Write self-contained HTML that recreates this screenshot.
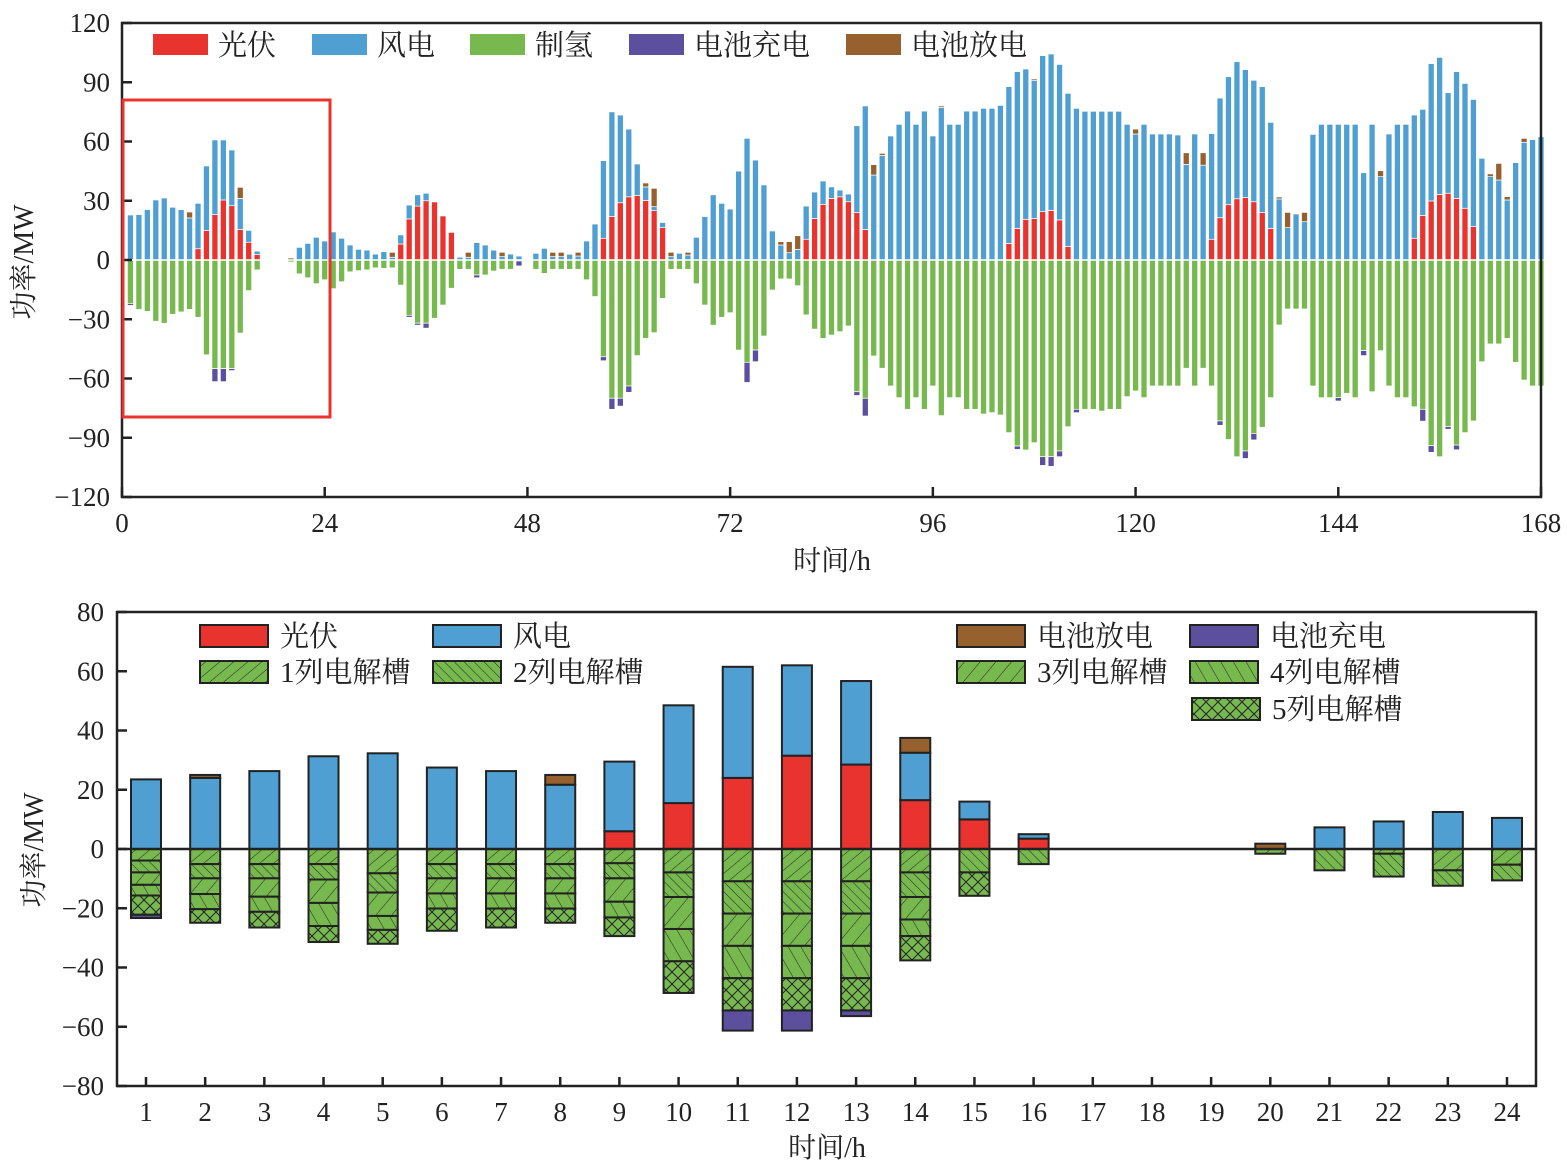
<!DOCTYPE html>
<html><head><meta charset="utf-8">
<style>
html,body{margin:0;padding:0;background:#fff;}
svg text{font-family:"Liberation Serif","Noto Serif CJK SC","Noto Sans CJK SC",serif;fill:#222;}
</style></head>
<body>
<svg id="svg" width="1567" height="1167" xmlns="http://www.w3.org/2000/svg">
<defs>
<pattern id="p1" patternUnits="userSpaceOnUse" width="9" height="9" patternTransform="rotate(50)"><rect width="9" height="9" fill="#77b94e"/><line x1="0" y1="0" x2="0" y2="9" stroke="#222" stroke-width="1"/></pattern>
<pattern id="p2" patternUnits="userSpaceOnUse" width="7" height="7" patternTransform="rotate(-45)"><rect width="7" height="7" fill="#77b94e"/><line x1="0" y1="0" x2="0" y2="7" stroke="#222" stroke-width="1"/></pattern>
<pattern id="p3" patternUnits="userSpaceOnUse" width="12" height="12" patternTransform="rotate(40)"><rect width="12" height="12" fill="#77b94e"/><line x1="0" y1="0" x2="0" y2="12" stroke="#222" stroke-width="1"/></pattern>
<pattern id="p4" patternUnits="userSpaceOnUse" width="11" height="11" patternTransform="rotate(-30)"><rect width="11" height="11" fill="#77b94e"/><line x1="0" y1="0" x2="0" y2="11" stroke="#222" stroke-width="1"/></pattern>
<pattern id="p5" patternUnits="userSpaceOnUse" width="12" height="12"><rect width="12" height="12" fill="#77b94e"/><path d="M0,0L12,12M12,0L0,12" stroke="#222" stroke-width="1"/></pattern>
</defs>
<g id="top"></g>
<g id="bot"></g>
</svg>
<script>
// ---------- TOP CHART DATA (168 h) ----------
const topPV = [0,0,0,0,0,0,0,0,5.7,15,23,30.4,27.5,15.5,9,2.7,0,0,0,0,0,0,0,0,0,0,0,0,0,0,0,0,8.1,20.8,27.3,30,29.4,22.3,14,0,0,0,0,0,0,0,0,0,0,0,0,0,0,0,0,0,11,22,29,32,32.6,30.2,25,16.4,0,0,0,0,0,0,0,0,0,0,0,0,0,0,0,0,10.5,21,28.2,31.2,32,29.5,24,15.5,0,0,0,0,0,0,0,0,0,0,0,0,0,0,0,0,8.4,16,20.6,21,24.5,25.1,20.3,6.8,0,0,0,0,0,0,0,0,0,0,0,0,0,0,0,0,10.5,21.4,28,31,31.6,29.5,24,16,0,0,0,0,0,0,0,0,0,0,0,0,0,0,0,0,11,22.6,29.9,33.2,33.8,31.2,26.2,16.9,0,0,0,0,0,0,0,0];
const topWindTotal = [22.8,23,25.5,30.4,31.4,26.7,25.5,21.3,28.7,47.6,60.8,60.8,55.7,31.2,15,4.5,0,0,0,0,6.4,8.4,11.5,9.6,14.2,11,7.6,5.4,5,3,4.2,1.4,12.7,27.8,33,33.8,29.4,22.3,14,1.4,1.4,8.8,7.6,5,1.7,3,2,0,3.4,5.9,1.7,1.7,2.9,2,9.6,18.2,50.3,75,73.4,66.3,48.6,37,27,19,1.7,3.4,2.5,11.5,22,33,28.7,25.8,45,61.6,50.6,38,14.7,7.6,3.7,5.4,27.3,34.4,40,37,35.4,33.4,68,78,43,53,62.8,68.7,75.4,68.7,75.4,62.8,77.3,68.7,68.7,75.4,75.4,76.8,76.8,78.3,87.8,95.4,96.7,91,103.5,104.3,99,84.4,76.8,75.3,75.3,75.3,75.3,75.3,68.7,63.8,68.7,63.8,63.8,63.8,63.3,48.4,63.8,48,64,82,92.8,100.4,96.4,91,87.8,69.7,30.9,16.4,23.3,19.4,63.6,68.7,68.7,68.7,68.7,68.7,44.2,68.7,42.2,63.8,68.7,68.7,73.4,76.3,99.4,102.6,84.7,95.4,89.4,81.3,51.5,42.2,40.5,30.4,49.3,59.6,61,62.4];
const topDischarge = [0,0,0,0,0,0,0,3,0,0,0,0,0,5.6,0,0,0,0,0,1,0,0,0,0,0,0,0,0,0,0,0,2.5,0,0,0,0,0,0,0,0,2.5,0,0,0,2.2,0,0,0,0,0,2.2,2.2,0,1.9,0,0,0,0,0,0,0,2,9.3,0,2.2,0,1.4,0,0,0,0,0,0,0,0,0,0,1.7,5.6,6.9,0,0,0,0,0,0,0,0,5.3,1,0,0,0,0,0,0,0.7,0,0,0,0,0,0,0,0,0,0,0.7,0,0,0,0,0,0,0,0,0,0,0,2.5,0,0,0,0,0,5.9,0,6.3,0,0,0,0,0,0,0,0,1,7.7,0,4.7,0,0,0,0,0,0,0,0,3,0,0,0,0,0,0,0,0,0,0,0,0,1.4,8.4,1.7,0,2,0];
const topH2 = [22,25,26,31,32,27.5,26.3,25,29,48,55,55,55,37,15.5,5,0,0,0,1,7,9,12,10,14.5,11,6,5.4,5,4,4.2,4,12.7,28,32,32,29.5,22.8,14.3,4.7,4.7,7.6,7.6,5.6,4.7,4.7,0.5,0.3,4.7,6.8,4.7,4.7,4.7,4.7,10,18.5,49,70,70,63.8,48.4,39.7,36.8,19.4,4.7,4.7,4.7,12,22.8,33,29,26.7,45.6,51.8,45.6,38.5,15.2,9.6,9.6,13,27.8,35,39.7,38,36.3,33.4,66.7,70,48.6,54.8,63.8,69.7,75.6,69.7,75.6,63.8,78.8,69.7,69.7,75.6,75.6,78,77.3,78.5,87.4,94.2,96.2,92.5,99.6,99.6,96.7,84.4,75.6,75.6,75.6,76.5,75.6,75.6,69.2,66.3,69.7,63.8,63.8,63.8,63.8,54.8,63.8,54.8,63.8,81.5,90.8,99.6,96.7,87.8,84.7,69.7,32.9,24.8,24.8,24.8,63.8,69.7,69.7,69.7,67.5,69.7,45.9,66.7,45.9,63.8,69.7,69.7,74.3,75.6,94,99.6,84.4,93.7,87.4,81.5,51.5,42.5,42.5,39.7,51.8,60.8,63.8,63.8];
const topCharge = [1,0,0,0,0,0,0,0,0,0,6.6,6.6,1,0,0,0,0,0,0,0,0,0,0,0,0,0,0,0,0,0,0,0,0,1,1,2.5,0,0,0,0,0,1.4,0,0,0,0,2.5,0,0,0,0,0,0,0,0,0,2,5.6,4,3.2,0,0,0,0,0,0,0,0,0,0,0,0,0,10.2,5.9,0,0,0,0,0,0,0,0,0,0,0,1.9,9,0,0,0,0,0,0,0,0,0,0,0,0,0,0,0,0,0,1.7,0,0,4.4,4.9,2.9,0,1.7,0,0,0,0,0,0,0,0,0,0,0,0,0,0,0,0,2.2,0.4,0,3.8,3.3,0,0,0,0,0,0,0,0,0,1.7,0,0,2.5,0,0,0,0,0,0,6,3.4,0,1.3,2.4,0,0,0,0,0,0,0,0,0];
const topYTicks = [120,90,60,30,0,-30,-60,-90,-120];
const topYLabels = ["120","90","60","30","0","\u221230","\u221260","\u221290","\u2212120"];
const topXTicks = [0,24,48,72,96,120,144,168];

// ---------- BOTTOM CHART DATA (24 h) ----------
const hours = ["1","2","3","4","5","6","7","8","9","10","11","12","13","14","15","16","17","18","19","20","21","22","23","24"];
const botPV = [0,0,0,0,0,0,0,0,6,15.5,24,31.5,28.5,16.5,10,3.5,0,0,0,0,0,0,0,0];
const botWind = [23.5,24,26.3,31.3,32.3,27.5,26.3,21.7,23.5,33,37.5,30.5,28.2,16,6,1.5,0,0,0,0,7.3,9.3,12.5,10.5];
const botDischarge = [0,1,0,0,0,0,0,3.3,0,0,0,0,0,5,0,0,0,0,0,1.8,0,0,0,0];
const botCharge = [1.1,0,0,0,0,0,0,0,0,0,6.8,6.8,1.9,0,0,0,0,0,0,0,0,0,0,0];
const stack1 = [3.9,5.1,5.1,5.1,8.2,5.1,5.1,5.1,4.8,7.9,10.9,10.9,10.9,7.9,0,0,0,0,0,1.6,0,1.6,7.2,5.3];
const stack2 = [4.0,4.8,4.8,5.2,6.5,4.8,4.8,4.8,5.1,8.3,10.9,10.9,10.9,8.3,7.9,5.1,0,0,0,0,7.2,7.7,5.2,5.3];
const stack3 = [4.2,5.3,6.2,7.9,7.9,5.1,5.1,5.1,7.9,10.8,10.9,10.9,10.9,7.6,0,0,0,0,0,0,0,0,0,0];
const stack4 = [3.6,5.1,5.1,7.8,4.7,5.1,5.1,5.1,5.3,10.9,10.9,10.9,10.9,5.6,0,0,0,0,0,0,0,0,0,0];
const stack5 = [6.5,4.6,5.3,5.4,4.7,7.5,6.4,4.8,6.3,10.7,10.9,10.9,10.9,8.2,7.9,0,0,0,0,0,0,0,0,0];
const botYTicks = [80,60,40,20,0,-20,-40,-60,-80];
const botYLabels = ["80","60","40","20","0","\u221220","\u221240","\u221260","\u221280"];

const NS="http://www.w3.org/2000/svg";
function mk(parent,tag,attrs,text){const e=document.createElementNS(NS,tag);for(const k in attrs)e.setAttribute(k,attrs[k]);if(text!==undefined)e.textContent=text;parent.appendChild(e);return e;}
const C={pv:"#e8332f",wind:"#4f9fd2",h2:"#77b94e",ch:"#5b4f9e",dis:"#96612f"};

// ===== TOP =====
const T=document.getElementById('top');
const tx0=122,tx1=1541,ty0=23,ty1=497;
const tX=h=>tx0+(h/168)*(tx1-tx0);
const tY=v=>ty0+(120-v)/240*(ty1-ty0);
const bw=6;
for(let i=0;i<168;i++){
  const h=i+1,xc=tX(h);
  const segs=[];
  const pv=topPV[i],wt=topWindTotal[i],ds=topDischarge[i],h2=topH2[i],ch=topCharge[i];
  if(pv>0)segs.push([0,pv,C.pv,'pv-bar']);
  if(wt>pv)segs.push([pv,wt,C.wind,'wind-bar']);
  if(ds>0)segs.push([Math.max(wt,pv),Math.max(wt,pv)+ds,C.dis,'discharge-bar']);
  if(h2>0)segs.push([-h2,0,C.h2,'hydrogen-bar']);
  if(ch>0)segs.push([-h2-ch,-h2,C.ch,'charge-bar']);
  segs.forEach(s=>{
    const y0=tY(s[1]),y1=tY(s[0]);
    const r=mk(T,'rect',{x:xc-bw/2,y:y0,width:bw,height:Math.max(0.8,y1-y0),fill:s[2],stroke:'#fff','stroke-width':0.7});
    
    
  });
}
const tz=mk(T,'line',{x1:tx0,x2:tx1,y1:tY(0),y2:tY(0),stroke:'#fff','stroke-width':1.5});

const frame=mk(T,'rect',{x:tx0,y:ty0,width:tx1-tx0,height:ty1-ty0,fill:'none',stroke:'#222','stroke-width':2.5});

topYTicks.forEach((v,i)=>{
  const y=tY(v);
  mk(T,'line',{x1:tx0,x2:tx0+10,y1:y,y2:y,stroke:'#222','stroke-width':2.5});
  const t=mk(T,'text',{x:110,y:y+9,'text-anchor':'end','font-size':27},topYLabels[i]);
  
});
topXTicks.forEach(v=>{
  const x=tX(v);
  mk(T,'line',{x1:x,x2:x,y1:ty1,y2:ty1-10,stroke:'#222','stroke-width':2.5});
  const t=mk(T,'text',{x:x,y:532,'text-anchor':'middle','font-size':27},String(v));
  
});
const box=mk(T,'rect',{x:123,y:100,width:207,height:317,fill:'none',stroke:'#e8332f','stroke-width':3});

let tt=mk(T,'text',{x:832,y:570,'text-anchor':'middle','font-size':28},'时间/h');

tt=mk(T,'text',{x:0,y:0,'text-anchor':'middle','font-size':28,transform:'translate(33,262) rotate(-90)'},'功率/MW');

const topLeg=[[153,C.pv,'光伏'],[312,C.wind,'风电'],[470,C.h2,'制氢'],[629,C.ch,'电池充电'],[846,C.dis,'电池放电']];
topLeg.forEach(l=>{
  const g=mk(T,'g',{});
  
  mk(g,'rect',{x:l[0],y:34,width:55,height:21,fill:l[1]});
  mk(g,'text',{x:l[0]+65,y:55,'font-size':29},l[2]);
});

// ===== BOTTOM =====
const B=document.getElementById('bot');
const bx0=117,bx1=1536,by0=612,by1=1086;
const bX=i=>146+i*(1507-146)/23;
const bY=v=>by0+(80-v)/160*(by1-by0);
const w2=30;
function bar(i,v0,v1,fill,name){
  if(Math.abs(v1-v0)<0.01)return;
  const y0=bY(Math.max(v0,v1)),y1=bY(Math.min(v0,v1));
  const r=mk(B,'rect',{x:bX(i)-w2/2,y:y0,width:w2,height:y1-y0,fill:fill,stroke:'#222','stroke-width':2});
  
  
}
for(let i=0;i<24;i++){
  let top=0;
  bar(i,top,top+botPV[i],C.pv,'pv-bar');top+=botPV[i];
  bar(i,top,top+botWind[i],C.wind,'wind-bar');top+=botWind[i];
  bar(i,top,top+botDischarge[i],C.dis,'discharge-bar');
  let bot=0;
  const st=[stack1,stack2,stack3,stack4,stack5];
  st.forEach((s,k)=>{bar(i,bot,bot-s[i],'url(#p'+(k+1)+')','electrolyzer'+(k+1)+'-bar');bot-=s[i];});
  bar(i,bot,bot-botCharge[i],C.ch,'charge-bar');
}
const bz=mk(B,'line',{x1:bx0,x2:bx1,y1:bY(0),y2:bY(0),stroke:'#222','stroke-width':2.5});

const bf=mk(B,'rect',{x:bx0,y:by0,width:bx1-bx0,height:by1-by0,fill:'none',stroke:'#222','stroke-width':2.5});

botYTicks.forEach((v,i)=>{
  const y=bY(v);
  mk(B,'line',{x1:bx0,x2:bx0+10,y1:y,y2:y,stroke:'#222','stroke-width':2.5});
  const t=mk(B,'text',{x:104,y:y+9,'text-anchor':'end','font-size':27},botYLabels[i]);
  
});
hours.forEach((h,i)=>{
  const x=bX(i);
  mk(B,'line',{x1:x,x2:x,y1:by1,y2:by1-9,stroke:'#222','stroke-width':2.5});
  const t=mk(B,'text',{x:x,y:1121,'text-anchor':'middle','font-size':27},h);
  
});
tt=mk(B,'text',{x:827,y:1157,'text-anchor':'middle','font-size':28},'时间/h');

tt=mk(B,'text',{x:0,y:0,'text-anchor':'middle','font-size':28,transform:'translate(43,850) rotate(-90)'},'功率/MW');

const botLeg=[[200,625,C.pv,'光伏'],[433,625,C.wind,'风电'],[957,625,C.dis,'电池放电'],[1190,625,C.ch,'电池充电'],
[200,661,'url(#p1)','1列电解槽'],[433,661,'url(#p2)','2列电解槽'],[957,661,'url(#p3)','3列电解槽'],[1190,661,'url(#p4)','4列电解槽'],[1192,698,'url(#p5)','5列电解槽']];
botLeg.forEach(l=>{
  const g=mk(B,'g',{});
  
  mk(g,'rect',{x:l[0],y:l[1],width:68,height:22,fill:l[2],stroke:'#222','stroke-width':2});
  mk(g,'text',{x:l[0]+80,y:l[1]+21,'font-size':29},l[3]);
});
</script>
</body></html>
